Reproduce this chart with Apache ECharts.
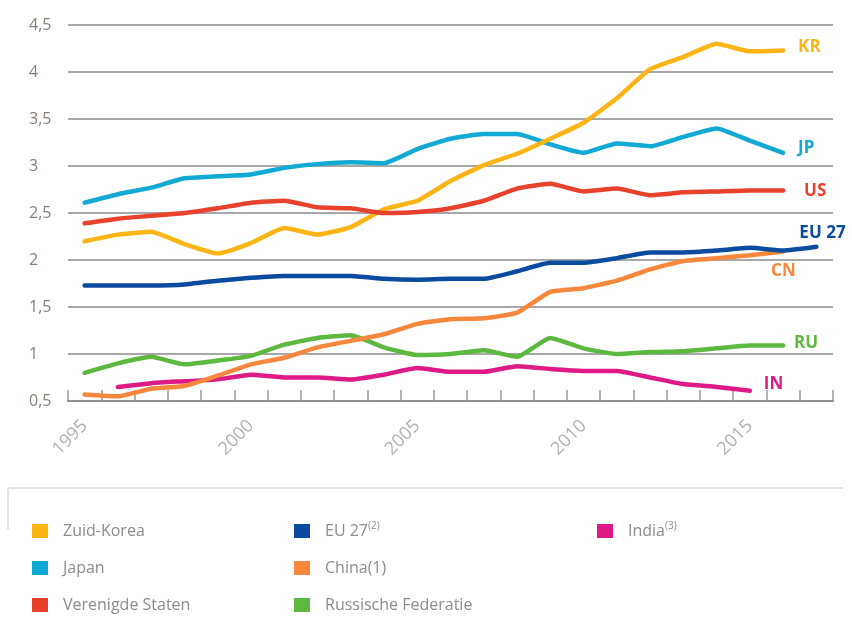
<!DOCTYPE html>
<html>
<head>
<meta charset="utf-8">
<script src="https://cdn.jsdelivr.net/npm/echarts@6/dist/echarts.min.js"></script>
<style>
  html, body { margin: 0; padding: 0; background: #fff; }
  #chart { width: 852px; height: 619px; }
</style>
</head>
<body>
<div id="chart"></div>
<script>
// jaren 1995 - 2017
var years = [];
for (var y = 1995; y <= 2017; y++) years.push(String(y));

var yTicks = [0.5, 1, 1.5, 2, 2.5, 3, 3.5, 4, 4.5];

var kr = [2.20, 2.27, 2.30, 2.17, 2.07, 2.18, 2.34, 2.27, 2.35, 2.54, 2.63, 2.84, 3.01, 3.13, 3.29, 3.46, 3.72, 4.03, 4.16, 4.30, 4.22, 4.23];
var jp = [2.61, 2.70, 2.77, 2.87, 2.89, 2.91, 2.98, 3.02, 3.04, 3.03, 3.18, 3.29, 3.34, 3.34, 3.23, 3.14, 3.24, 3.21, 3.31, 3.40, 3.27, 3.14];
var us = [2.39, 2.44, 2.47, 2.50, 2.55, 2.61, 2.63, 2.56, 2.55, 2.50, 2.51, 2.55, 2.63, 2.76, 2.81, 2.73, 2.76, 2.69, 2.72, 2.73, 2.74, 2.74];
var eu = [1.73, 1.73, 1.73, 1.74, 1.78, 1.81, 1.83, 1.83, 1.83, 1.80, 1.79, 1.80, 1.80, 1.88, 1.97, 1.97, 2.02, 2.08, 2.08, 2.10, 2.13, 2.10, 2.14];
var cn = [0.57, 0.55, 0.63, 0.66, 0.77, 0.89, 0.96, 1.07, 1.14, 1.21, 1.32, 1.37, 1.38, 1.44, 1.66, 1.70, 1.78, 1.90, 1.99, 2.02, 2.05, 2.09];
var ru = [0.80, 0.90, 0.97, 0.89, 0.93, 0.98, 1.10, 1.17, 1.20, 1.07, 0.99, 1.00, 1.04, 0.97, 1.17, 1.06, 1.00, 1.02, 1.03, 1.06, 1.09, 1.09];
var ind = [null, 0.65, 0.69, 0.71, 0.73, 0.78, 0.75, 0.75, 0.73, 0.78, 0.85, 0.81, 0.81, 0.87, 0.84, 0.82, 0.82, 0.75, 0.68, 0.65, 0.61];

var chart = echarts.init(document.getElementById("chart"));

function makeLine(name, data, color, tag, offset) {
  return {
    name: name,
    type: "line",
    data: data,
    symbol: "none",
    smooth: 0.15,
    lineStyle: { color: color, width: 4.5, cap: "round", join: "round" },
    itemStyle: { color: color },
    endLabel: {
      show: true,
      formatter: tag,
      color: color,
      fontFamily: "Open Sans",
      fontWeight: "bold",
      fontSize: 17,
      distance: 0,
      align: "left",
      verticalAlign: "middle",
      offset: offset,
    },
  };
}

var legendText = {
  color: "#8c8c8c",
  fontFamily: "Open Sans",
  fontSize: 16,
  lineHeight: 20,
  padding: [0, 0, 0, 10],
  rich: {
    s: { fontSize: 10, color: "#8c8c8c", verticalAlign: "top", lineHeight: 20, padding: [0, 0, 8, 0] },
  },
};

function legendFormatter(name) {
  if (name === "EU27") return "EU 27{s|(2)}";
  if (name === "India") return "India{s|(3)}";
  if (name === "China") return "China(1)";
  return name;
}

function makeLegend(left, names) {
  return {
    orient: "vertical",
    left: left,
    top: 521,
    padding: 0,
    icon: "rect",
    itemWidth: 16,
    itemHeight: 14,
    itemGap: 17,
    selectedMode: false,
    textStyle: legendText,
    formatter: legendFormatter,
    data: names,
  };
}

chart.setOption({
  animation: false,
  grid: { left: 68, right: 19, top: 25, bottom: 218 },
  legend: [
    makeLegend(32, ["Zuid-Korea", "Japan", "Verenigde Staten"]),
    makeLegend(294, ["EU27", "China", "Russische Federatie"]),
    makeLegend(597, ["India"]),
  ],
  graphic: [
    { type: "line", shape: { x1: 8, y1: 488, x2: 843, y2: 488 }, style: { stroke: "#e3e3ea", lineWidth: 2 } },
    { type: "line", shape: { x1: 8, y1: 488, x2: 8, y2: 530 }, style: { stroke: "#e3e3ea", lineWidth: 2 } },
  ],
  xAxis: {
    type: "category",
    data: years,
    boundaryGap: true,
    axisLine: { lineStyle: { color: "#8f8f8f", width: 2 } },
    axisTick: { show: true, interval: 0, inside: true, length: 11, lineStyle: { color: "#9a9a9a", width: 1.5 } },
    axisLabel: {
      interval: 4,
      rotate: 45,
      margin: 22,
      color: "#b0b0b0",
      fontFamily: "Open Sans",
      fontSize: 18,
    },
  },
  yAxis: {
    type: "value",
    min: yTicks[0],
    max: yTicks[yTicks.length - 1],
    interval: 0.5,
    axisLine: { show: false },
    axisTick: { show: false },
    axisLabel: {
      align: "left",
      margin: 39,
      color: "#8a7e78",
      fontFamily: "Open Sans",
      fontSize: 16,
      formatter: function (v) {
        return String(v).replace(".", ",");
      },
    },
    splitLine: { lineStyle: { color: "#a8a8a8", width: 2 } },
  },
  series: [
    makeLine("Japan", jp, "#12a9d4", "JP", [15, -5]),
    makeLine("Zuid-Korea", kr, "#fdb515", "KR", [15, -3]),
    makeLine("Verenigde Staten", us, "#e8412c", "US", [21, 1]),
    makeLine("Russische Federatie", ru, "#5db83f", "RU", [11, -2]),
    makeLine("India", ind, "#dd1a86", "IN", [14, -7]),
    makeLine("China", cn, "#f6873c", "CN", [-12, 20]),
    makeLine("EU27", eu, "#0a4ba0", "EU 27", [-17, -14]),
  ],
});
</script>
</body>
</html>
